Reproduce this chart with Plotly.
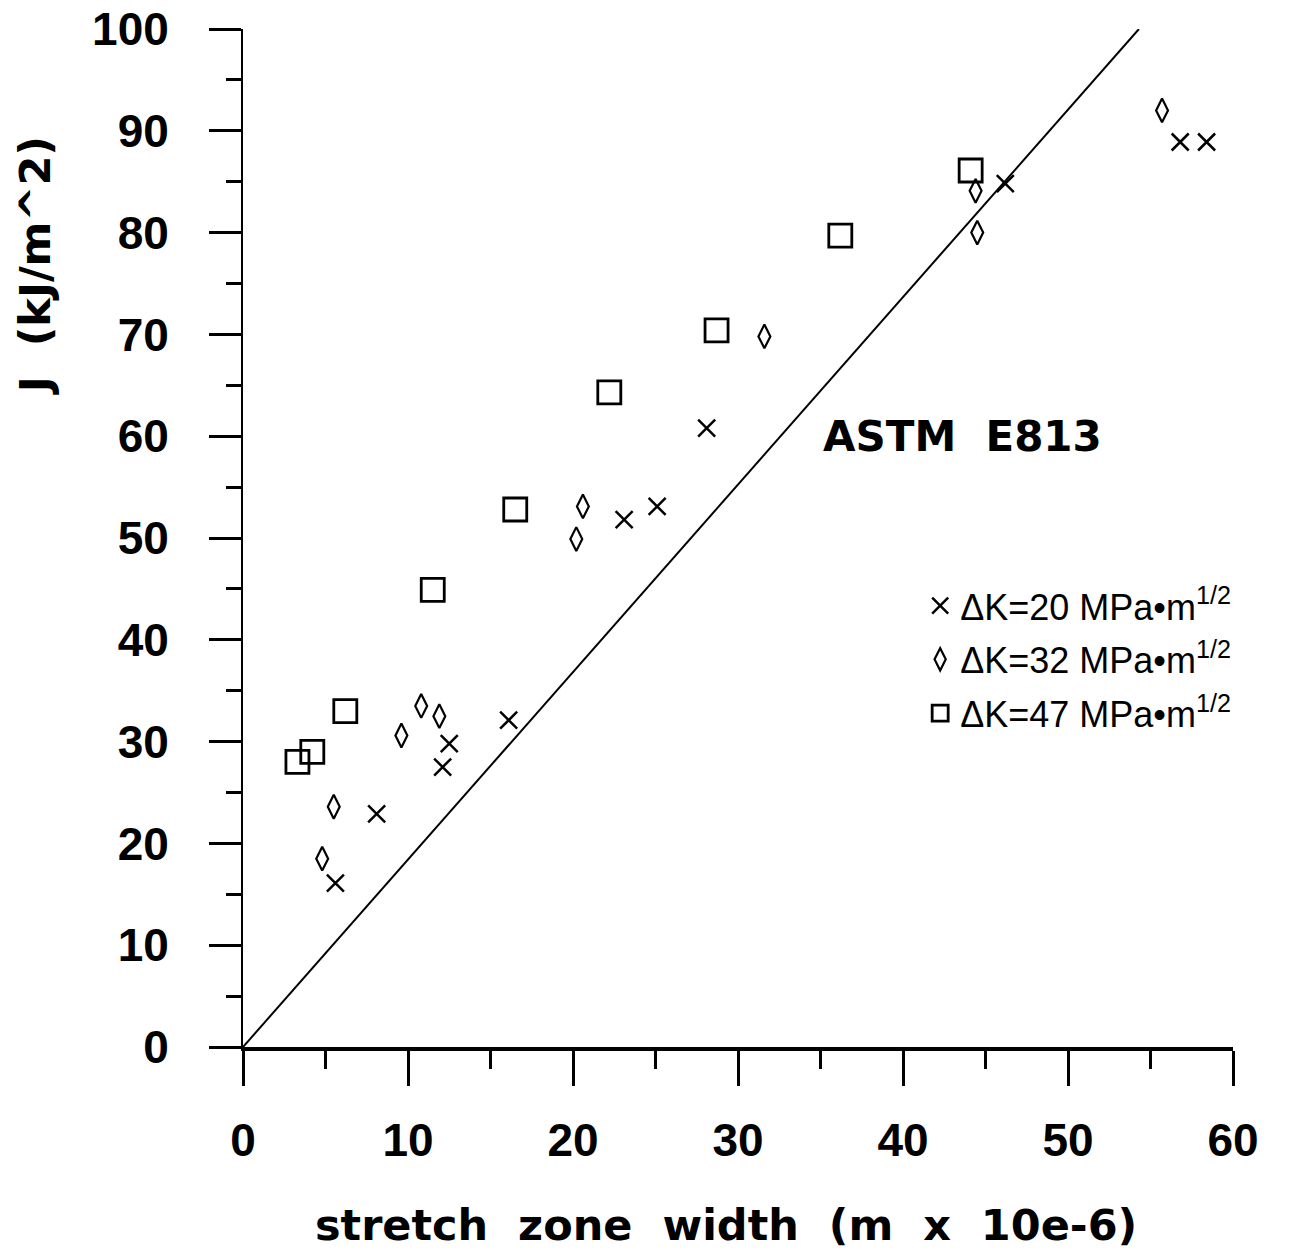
import plotly.graph_objects as go

# stretch zone width (um) vs J (kJ/m^2)
x_dk20 = [5.6, 8.1, 12.1, 12.5, 16.1, 23.1, 25.1, 28.1, 46.2, 56.8, 58.4]
j_dk20 = [16.1, 22.9, 27.5, 29.8, 32.1, 51.8, 53.1, 60.8, 84.8, 88.9, 88.9]

x_dk32 = [4.8, 5.5, 9.6, 10.8, 11.9, 20.2, 20.6, 31.6, 44.5, 44.4, 55.7]
j_dk32 = [18.5, 23.6, 30.6, 33.5, 32.5, 49.9, 53.1, 69.8, 80.0, 84.1, 92.0]

x_dk47 = [3.3, 4.2, 6.2, 11.5, 16.5, 22.2, 28.7, 36.2, 44.1]
j_dk47 = [28.0, 29.0, 33.0, 44.9, 52.8, 64.3, 70.4, 79.7, 86.1]

# ASTM E813 blunting line
astm_x = [0, 54.3]
astm_y = [0, 100]

names = [
    "\u0394K=20 MPa\u2022m<sup>1/2</sup>",
    "\u0394K=32 MPa\u2022m<sup>1/2</sup>",
    "\u0394K=47 MPa\u2022m<sup>1/2</sup>",
]

fig = go.Figure()

fig.add_trace(go.Scatter(x=astm_x, y=astm_y, mode="lines",
                         line=dict(color="black", width=2),
                         showlegend=False, cliponaxis=False))

fig.add_trace(go.Scatter(x=x_dk20, y=j_dk20, mode="markers", name=names[0],
                         legendgroup="a",
                         marker=dict(symbol="x-thin-open", size=17, color="black",
                                     line=dict(color="black", width=2.5)),
                         cliponaxis=False))
fig.add_trace(go.Scatter(x=x_dk32, y=j_dk32, mode="markers", name=names[1],
                         legendgroup="b",
                         marker=dict(symbol="diamond-tall-open", size=17, color="black",
                                     line=dict(color="black", width=2.2)),
                         cliponaxis=False))
fig.add_trace(go.Scatter(x=x_dk47, y=j_dk47, mode="markers", name=names[2],
                         legendgroup="c",
                         marker=dict(symbol="square-open", size=23, color="black",
                                     line=dict(color="black", width=2.8)),
                         cliponaxis=False))

tick_font = dict(family="Liberation Sans, Arial", size=46, color="black", weight="bold")
title_font = dict(family="DejaVu Sans", size=43, color="black", weight="bold")

fig.update_xaxes(range=[0, 60], dtick=10, tick0=0, showgrid=False, zeroline=False,
                 automargin=False, ticklabeloverflow="allow",
                 showline=True, linecolor="black", linewidth=3.5,
                 ticks="outside", ticklen=35, tickwidth=2.5, tickcolor="black",
                 tickfont=tick_font, ticklabelstandoff=15,
                 minor=dict(dtick=5, ticks="outside", ticklen=18, tickwidth=2.5,
                            tickcolor="black", showgrid=False))
fig.update_yaxes(range=[0, 100], dtick=10, tick0=0, showgrid=False, zeroline=False,
                 automargin=False, ticklabeloverflow="allow",
                 showline=True, linecolor="black", linewidth=2,
                 ticks="outside", ticklen=32, tickwidth=2.5, tickcolor="black",
                 tickfont=tick_font, ticklabelstandoff=31,
                 minor=dict(dtick=5, ticks="outside", ticklen=15, tickwidth=2.5,
                            tickcolor="black", showgrid=False))

nb = "\u00a0\u00a0"
fig.add_annotation(text="ASTM" + nb + "E813", x=35.0, y=60.0, xref="x", yref="y",
                   xanchor="left", yanchor="middle", showarrow=False,
                   font=dict(family="DejaVu Sans", size=42, color="black", weight="bold"))
fig.add_annotation(text="stretch" + nb + "zone" + nb + "width" + nb + "(m" + nb + "x" + nb + "10e-6)",
                   x=0.488, y=-0.175, xref="paper", yref="paper",
                   xanchor="center", yanchor="middle", showarrow=False, font=title_font)
fig.add_annotation(text="J" + nb + "(kJ/m^2)", x=-0.21, y=0.767, xref="paper", yref="paper",
                   xanchor="center", yanchor="middle", textangle=-90, showarrow=False,
                   font=title_font)

fig.update_layout(
    width=1302, height=1258,
    margin=dict(l=235, r=77, t=21, b=219),
    plot_bgcolor="white", paper_bgcolor="white",
    legend=dict(x=0.684, y=0.463, xanchor="left", yanchor="top",
                font=dict(family="Liberation Sans, Arial", size=36, color="black"),
                bgcolor="rgba(0,0,0,0)", tracegroupgap=4, itemsizing="trace"),
)

fig.write_html("out.html")
